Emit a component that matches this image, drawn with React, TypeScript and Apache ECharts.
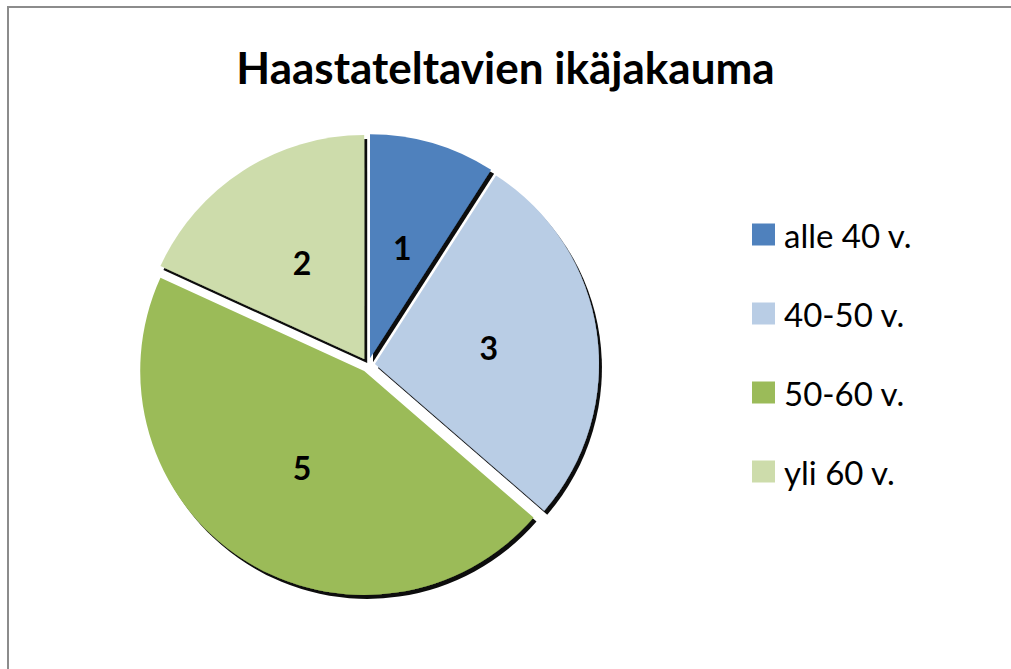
import React, { useEffect, useRef } from "react";
import * as echarts from "echarts";

const titleText = "Haastateltavien ikäjakauma";
const categories = ["alle 40 v.", "40-50 v.", "50-60 v.", "yli 60 v."];
const values = [1, 3, 5, 2];
const colors = ["#4F81BD", "#B9CDE5", "#9BBB59", "#CDDCAB"];

export default function App() {
  const ref = useRef<HTMLDivElement>(null);
  useEffect(() => {
    if (!ref.current) return;
    const chart = echarts.init(ref.current, undefined, { renderer: "svg" });
    const shadow = {
      shadowColor: "rgba(0,0,0,0.95)",
      shadowBlur: 1,
      shadowOffsetX: 3,
      shadowOffsetY: 4,
    };
    chart.setOption({
      animation: false,
      backgroundColor: "#ffffff",
      title: {
        text: titleText,
        left: "center",
        top: 40,
        textStyle: {
          fontFamily: "Lato",
          fontWeight: "bold",
          fontSize: 44,
          color: "#000000",
        },
      },
      legend: {
        orient: "vertical",
        left: 747,
        top: 213,
        itemWidth: 23,
        itemHeight: 22,
        itemGap: 46,
        icon: "rect",
        data: categories,
        textStyle: {
          fontFamily: "Lato",
          fontSize: 33,
          color: "#000000",
          padding: [0, 0, 0, 4],
        },
      },
      graphic: [
        {
          type: "rect",
          shape: { x: 8, y: 7, width: 1200, height: 900 },
          style: { fill: "none", stroke: "#8C8C8C", lineWidth: 2 },
          silent: true,
        },
      ],
      series: [
        {
          type: "pie",
          center: [368, 365],
          radius: 224,
          startAngle: 90,
          clockwise: true,
          selectedMode: "multiple",
          selectedOffset: 7,
          avoidLabelOverlap: false,
          label: {
            show: true,
            position: "inside",
            formatter: "{c}",
            fontFamily: "Lato",
            fontWeight: "bold",
            fontSize: 32,
            color: "#000000",
          },
          labelLine: { show: false },
          itemStyle: { ...shadow },
          select: { itemStyle: { ...shadow } },
          emphasis: { disabled: true },
          data: categories.map((name, i) => ({
            name,
            value: values[i],
            selected: true,
            itemStyle: { color: colors[i], ...shadow },
          })),
        },
      ],
    });
    return () => chart.dispose();
  }, []);
  return (
    <div
      ref={ref}
      style={{ position: "absolute", left: 0, top: 0, width: 1011, height: 669 }}
    />
  );
}
